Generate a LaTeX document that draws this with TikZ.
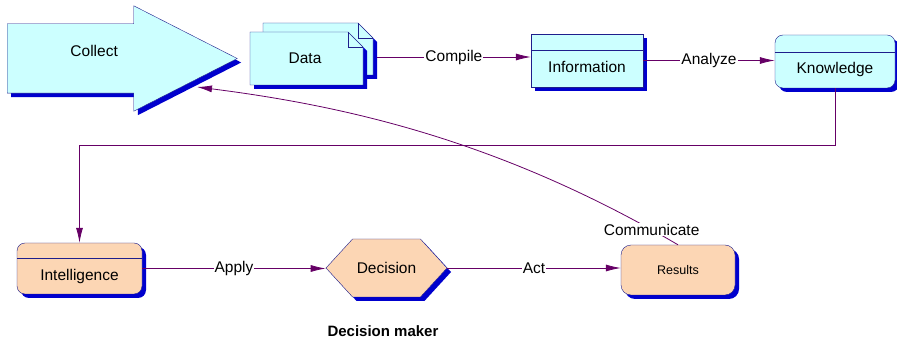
\documentclass[tikz,border=0pt]{standalone}
\usepackage{fontspec}
\setmainfont{Liberation Sans}
\usetikzlibrary{positioning, arrows.meta, shapes.arrows, shapes.symbols, shadows}

\definecolor{boxcyan}{RGB}{204,255,255}
\definecolor{boxpeach}{RGB}{252,214,180}
\definecolor{edgeblue}{RGB}{30,30,140}
\definecolor{shadowblue}{RGB}{0,0,205}
\definecolor{linkpurple}{RGB}{102,0,102}

\begin{document}
\begin{tikzpicture}[%
		x=1pt, y=-1pt,
		font=\fontsize{15.5}{18}\selectfont,
		blueshadow/.style={
			drop shadow={shadow xshift=4pt, shadow yshift=-4pt, fill=shadowblue, opacity=1}
		},
		sheet/.style={
			draw=edgeblue,
			fill=boxcyan,
			blueshadow
		},
		bigarrow/.style={
			single arrow,
			single arrow head extend=18pt,
			single arrow tip angle=54,
			minimum height=230pt,
			text height=32.5pt,
			text depth=36.5pt,
			inner sep=0pt,
			draw=edgeblue,
			fill=boxcyan,
			blueshadow
		},
		headbox/.style={
			rectangle,
			minimum width=112pt,
			minimum height=53pt,
			text height=39pt,
			text depth=14pt,
			inner sep=0pt,
			draw=edgeblue,
			blueshadow
		},
		resultbox/.style={
			rectangle,
			rounded corners=10pt,
			minimum width=114pt,
			minimum height=50pt,
			font=\fontsize{12.5}{14}\selectfont,
			draw=edgeblue,
			fill=boxpeach,
			blueshadow
		},
		hexbox/.style={
			signal,
			signal to=west and east,
			signal pointer angle=95,
			minimum width=121pt,
			minimum height=58pt,
			inner sep=0pt,
			draw=edgeblue,
			fill=boxpeach,
			blueshadow
		},
		lbl/.style={
			fill=white,
			inner sep=1pt
		},
		flow/.style={
			draw=linkpurple,
			line width=0.8pt,
			-{Latex[length=15pt, width=7pt]}
		}]

		\useasboundingbox (0,0) rectangle (897,347);

		% TOP ROW

		\node (collect) [bigarrow, anchor=tail] at (7,58.5) {\hspace*{12pt}Collect};

		\path[sheet] (263,23) -- (358,23) -- (373,38) -- (373,75) -- (263,75) -- cycle;
		\draw[edgeblue] (358,23) |- (373,38);
		\path[sheet] (250,32) -- (348,32) -- (363,47) -- (363,85) -- (250,85) -- cycle;
		\draw[edgeblue] (348,32) |- (363,47);
		\node (data) at (305,58) {Data};
		\coordinate (data-out) at (377,57);

		\node (info) [headbox, fill=boxcyan] at (587,60.5) {Information};
		\node (knowledge) [headbox, fill=boxcyan, rounded corners=8pt, minimum width=120pt] at (835,61.5) {Knowledge};

		% BOTTOM ROW

		\node (intel) [headbox, fill=boxpeach, rounded corners=8pt, minimum width=125pt, minimum height=51pt, text height=38pt, text depth=13pt] at (79.5,268.5) {Intelligence};
		\node (decision) [hexbox] at (386.5,268) {Decision};
		\node (results) [resultbox] at (678,270) {Results};

		\node (maker) [font=\bfseries\fontsize{15}{17}\selectfont] at (383,331) {Decision maker};

		% HEADER LINES

		\draw[edgeblue] ([yshift=-16pt]info.north west) -- ([yshift=-16pt]info.north east);
		\draw[edgeblue] ([yshift=-17pt]knowledge.north west) -- ([yshift=-17pt]knowledge.north east);
		\draw[edgeblue] ([yshift=-15pt]intel.north west) -- ([yshift=-15pt]intel.north east);

		% LINES

		\draw[flow] (data-out) -- node[lbl] {Compile} (data-out -| info.west);
		\draw[flow] (info.east) -- node[lbl] {Analyze} (info.east -| knowledge.west);
		\draw[flow] (knowledge.south) -- ++(0,57) -| (intel.north);
		\draw[flow] (intel.east) -- node[lbl] {Apply} (intel.east -| decision.west);
		\draw[flow] (decision.east) -- node[lbl] {Act} (decision.east -| results.west);

		\coordinate (collect-in) at (197,87);
		\draw[flow] (results.north) .. controls (501,141) and (347,106) .. (collect-in) node[pos=0.05, lbl] {Communicate};
\end{tikzpicture}
\end{document}
